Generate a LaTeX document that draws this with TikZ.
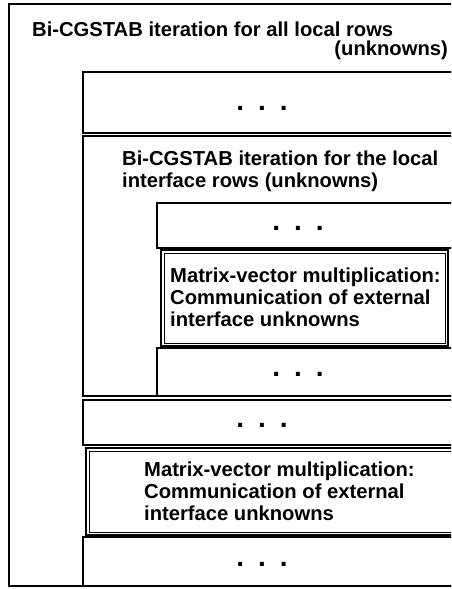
\documentclass[tikz,border=0pt]{standalone}
\usepackage{fontspec}
\setmainfont{Liberation Sans}
\usetikzlibrary{positioning}

\newcommand{\threedots}{.\hspace{14pt}.\hspace{14pt}.}

\tikzset{
    frame/.style={draw, line width=1.8pt},
    inframe/.style={draw, line width=0.9pt},
    txt/.style={inner sep=0pt, align=left, anchor=base west,
        font=\bfseries\fontsize{20.2}{22}\selectfont},
    dotstxt/.style={inner sep=0pt, anchor=base,
        font=\bfseries\fontsize{28}{28}\selectfont}
}

\begin{document}
\begin{tikzpicture}[x=1pt, y=-1pt]
\useasboundingbox (0,0) rectangle (451,589);
\clip (0,0) rectangle (451,589);

% Outer iteration
\draw[frame] (9,4) rectangle (470,586);
\node[txt] (outertitle) at (32,36) {Bi-CGSTAB iteration for all local rows};
\node[txt, anchor=base east] (outerunk) at (448,55) {(unknowns)};

% Dots
\draw[frame] (83,72) rectangle (470,133);
\node[dotstxt] (dotsa) at (262,110) {\threedots};

% Inner iteration
\draw[frame] (83,136) rectangle (470,396);
\node[txt] (innertitle) at (122,187) {Bi-CGSTAB iteration for the local\\interface rows (unknowns)};

\draw[frame] (157,203) rectangle (470,248);
\node[dotstxt] (dotsb) at (298,230) {\threedots};

% Matrix-vector (inner)
\draw[frame] (161,250) rectangle (448,346);
\draw[inframe] (164,253) rectangle (445,343);
\node[txt] (matvecin) at (170,326) {Matrix-vector multiplication:\\Communication of external\\interface unknowns};

\draw[frame] (157,348) rectangle (470,396);
\node[dotstxt] (dotsc) at (298,376) {\threedots};

% Dots
\draw[frame] (83,400) rectangle (470,445);
\node[dotstxt] (dotsd) at (262,427) {\threedots};

% Matrix-vector (outer)
\draw[frame] (86,448) rectangle (470,535);
\draw[inframe] (89,451) rectangle (470,532);
\node[txt] (matvecout) at (144,520) {Matrix-vector multiplication:\\Communication of external\\interface unknowns};

% Dots
\draw[frame] (83,537) rectangle (470,586);
\node[dotstxt] (dotse) at (262,566) {\threedots};

\end{tikzpicture}
\end{document}
